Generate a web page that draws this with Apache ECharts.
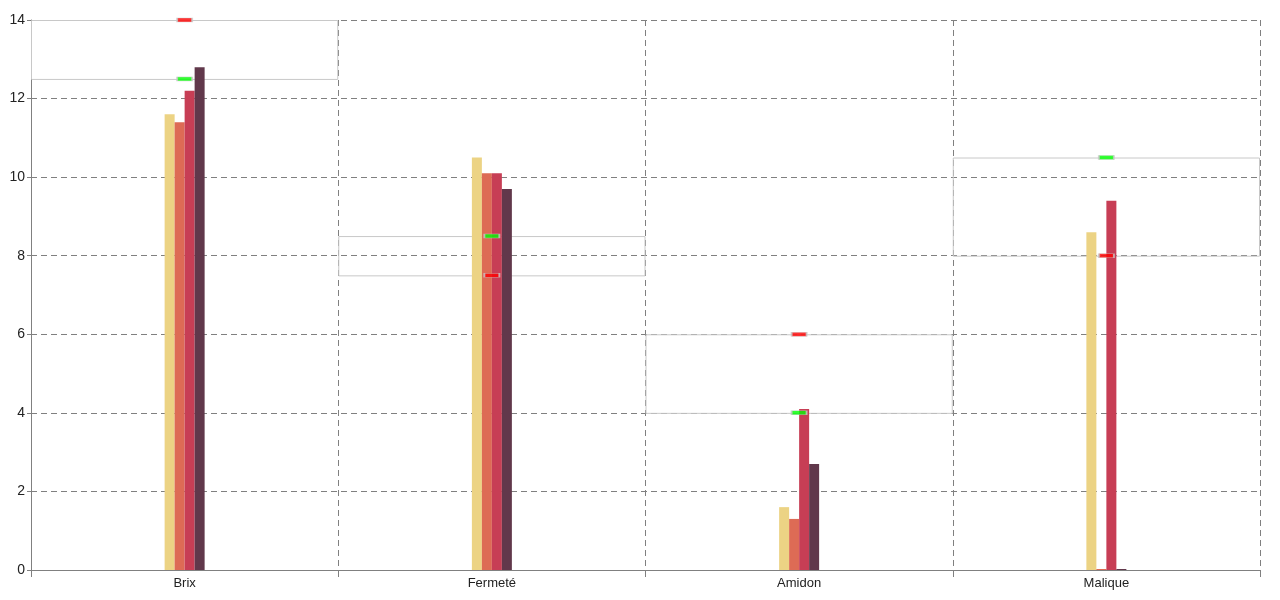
<!DOCTYPE html>
<html>
<head>
<meta charset="utf-8">
<script src="https://cdn.jsdelivr.net/npm/echarts@6/dist/echarts.min.js"></script>
<style>
  html, body { margin: 0; padding: 0; background: #fff; }
  #chart { width: 1280px; height: 600px; }
</style>
</head>
<body>
<div id="chart"></div>
<script>
const categories = ['Brix', 'Fermeté', 'Amidon', 'Malique']
const serie1 = [11.6, 10.5, 1.6, 8.6]
const serie2 = [11.4, 10.1, 1.3, 0]
const serie3 = [12.2, 10.1, 4.1, 9.4]
const serie4 = [12.8, 9.7, 2.7, 0]
const minTarget = [12.5, 8.5, 4, 10.5]   // green marks
const maxTarget = [14, 7.5, 6, 8]        // red marks
const barColors = ['#ecd384', '#dd6b55', '#c73e55', '#61384b']

const chart = echarts.init(document.getElementById('chart'), null, { renderer: 'canvas' })

const boxData = categories.map((c, i) => [i, Math.min(minTarget[i], maxTarget[i]), Math.max(minTarget[i], maxTarget[i])])

const marker = (name, values, color) => ({
  name,
  type: 'scatter',
  data: values,
  symbol: 'rect',
  symbolSize: [15, 4],
  z: 10,
  itemStyle: { color, borderColor: '#c8c8c8', borderWidth: 1 },
})

chart.setOption({
  animation: false,
  backgroundColor: '#fff',
  grid: { left: 31, right: 20, top: 20, bottom: 30, containLabel: false },
  xAxis: {
    type: 'category',
    data: categories,
    boundaryGap: true,
    axisLine: { lineStyle: { color: '#808080' } },
    axisTick: { show: true, alignWithLabel: false, length: 7, lineStyle: { color: '#808080' } },
    axisLabel: { color: '#222', fontSize: 13, fontFamily: 'Liberation Sans, Arial', margin: 7 },
    splitLine: { show: true, lineStyle: { color: '#808080', type: [6, 4] } },
  },
  yAxis: {
    type: 'value',
    min: 0, max: 14, interval: 2,
    axisLine: { show: true, lineStyle: { color: '#808080' } },
    axisTick: { show: true, length: 4, lineStyle: { color: '#808080' } },
    axisLabel: { color: '#222', fontSize: 14, fontFamily: 'Liberation Sans, Arial', margin: 6 },
    splitLine: { lineStyle: { color: '#808080', type: [6, 4] } },
  },
  series: [
    {
      type: 'custom',
      z: 1,
      data: boxData,
      renderItem: (params, api) => {
        const lo = api.coord([api.value(0), api.value(1)])
        const hi = api.coord([api.value(0), api.value(2)])
        const bw = api.size([1, 0])[0]
        return {
          type: 'rect',
          shape: { x: lo[0] - bw / 2 + 0.5, y: hi[1] + 0.5, width: bw - 1, height: lo[1] - hi[1] },
          style: { fill: 'none', stroke: '#c8c8c8', lineWidth: 1 },
        }
      },
    },
    ...[serie1, serie2, serie3, serie4].map((d, i) => ({
      type: 'bar',
      data: d,
      barWidth: 10,
      barGap: '0%',
      barMinHeight: 1,
      z: 2,
      itemStyle: { color: barColors[i] },
    })),
    marker('min', minTarget, '#00ff00'),
    marker('max', maxTarget, '#ff0000'),
  ],
})
</script>
</body>
</html>
